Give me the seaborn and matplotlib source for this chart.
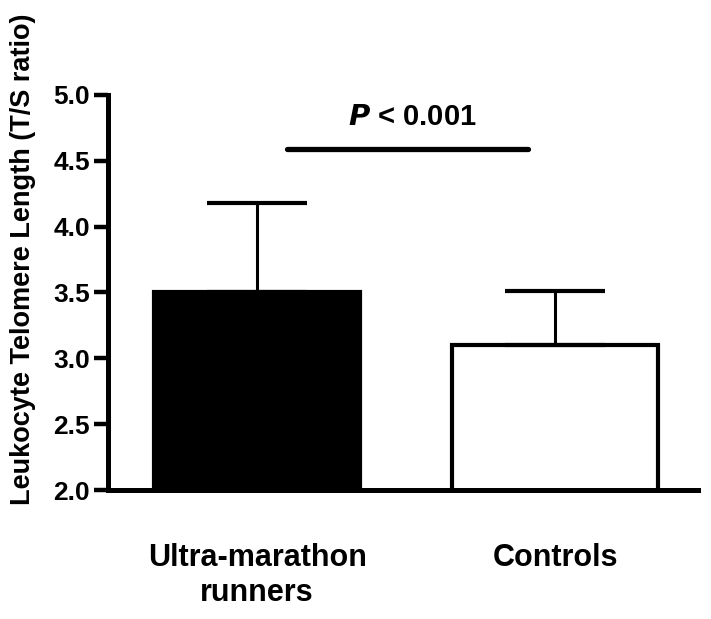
import pandas as pd
import matplotlib
matplotlib.use('Agg')
import matplotlib.pyplot as plt
import seaborn as sns

groups = ['Ultra-marathon\nrunners', 'Controls']
means = [3.50, 3.10]
sd_upper = [0.68, 0.41]
bar_colors = ['black', 'white']

sns.set_style('ticks', {'axes.edgecolor': 'black', 'text.color': 'black',
                        'axes.labelcolor': 'black', 'xtick.color': 'black',
                        'ytick.color': 'black'})
plt.rcParams['font.family'] = ['Liberation Sans', 'DejaVu Sans']
plt.rcParams['font.weight'] = 'bold'

data = pd.DataFrame({'group': groups, 'ltl': means})

fig = plt.figure(figsize=(7.11, 6.19), dpi=100)
ax = fig.add_axes([0.152, 0.208, 0.830, 0.639])

sns.barplot(data=data, x='group', y='ltl', order=groups, hue='group',
            palette=bar_colors, legend=False, width=0.69,
            edgecolor='black', linewidth=3, ax=ax, errorbar=None)

ax.errorbar(range(len(groups)), means, yerr=[[0] * len(groups), sd_upper],
            fmt='none', ecolor='black', elinewidth=2.2, capsize=36,
            capthick=3, zorder=1)

# significance bar
ax.plot([0.10, 0.91], [4.59, 4.59], color='black', lw=3.8,
        solid_capstyle='round', clip_on=False)
ax.text(0.52, 4.83, r'$\mathbfit{P}$ < 0.001', ha='center', va='center',
        fontsize=21, fontweight='bold', color='black')

ax.set_ylim(2.0, 5.0)
ax.set_xlim(-0.5, 1.48)
ax.set_yticks([2.0, 2.5, 3.0, 3.5, 4.0, 4.5, 5.0])
ax.set_yticklabels(['2.0', '2.5', '3.0', '3.5', '4.0', '4.5', '5.0'])
ax.set_xlabel('')
ax.set_ylabel('Leukocyte Telomere Length (T/S ratio)', fontsize=19.5,
              fontweight='bold', color='black')
ax.yaxis.set_label_coords(-0.122, 0.585)

ax.tick_params(axis='y', length=10, width=3.2, labelsize=19, pad=3,
               colors='black')
ax.tick_params(axis='x', length=0, labelsize=22, pad=38, colors='black')
for lab in ax.get_xticklabels() + ax.get_yticklabels():
    lab.set_fontweight('bold')

sns.despine(ax=ax)
for side in ['left', 'bottom']:
    ax.spines[side].set_linewidth(3.6)
    ax.spines[side].set_color('black')

fig.savefig('out.png', dpi=100, facecolor='white')
